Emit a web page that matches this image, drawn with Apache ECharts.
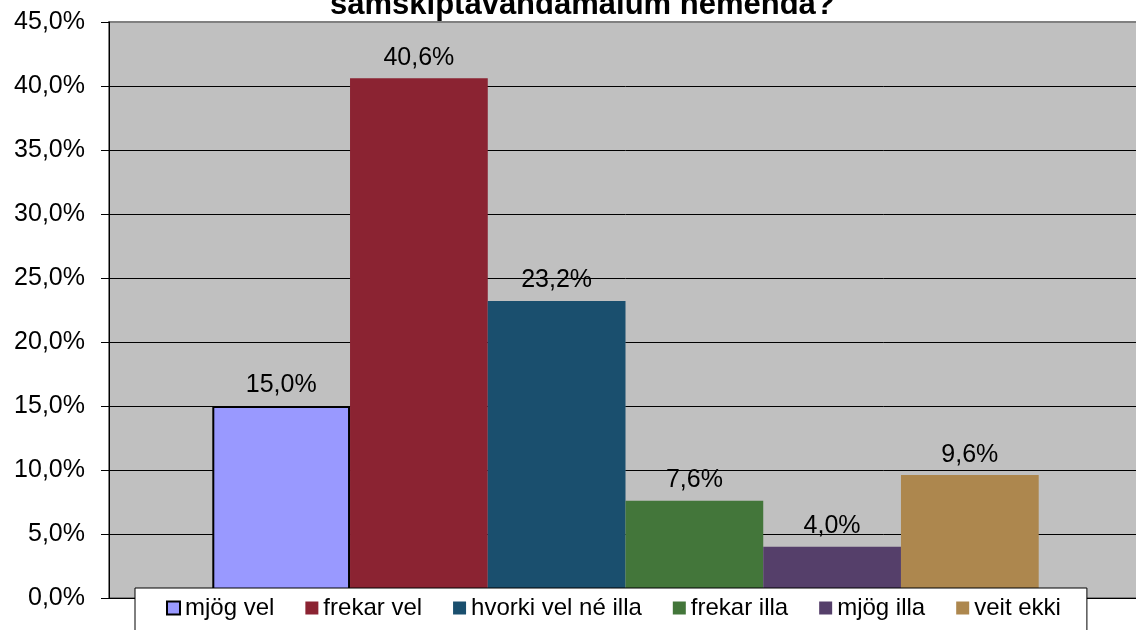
<!DOCTYPE html>
<html>
<head>
<meta charset="utf-8">
<script src="https://cdn.jsdelivr.net/npm/echarts@6/dist/echarts.min.js"></script>
<style>
  html, body { margin: 0; padding: 0; background: #fff; overflow: hidden; }
  /* the plot runs a few pixels past the right edge of the picture */
  #chart { width: 1142px; height: 630px; }
</style>
</head>
<body>
<div id="chart"></div>
<script>
// svarmöguleikar og hlutföll (%)
const answers = ['mjög vel', 'frekar vel', 'hvorki vel né illa', 'frekar illa', 'mjög illa', 'veit ekki'];
const shares = [15.0, 40.6, 23.2, 7.6, 4.0, 9.6];
const barColors = ['#9999FF', '#8B2332', '#1A4F6E', '#43763A', '#553F6A', '#AD874E'];
const titleText = 'samskiptavandamálum nemenda?';

const FONT = '"Liberation Sans", Arial, sans-serif';

function pct(v) {
  return v.toFixed(1).replace('.', ',') + '%';
}

const chart = echarts.init(document.getElementById('chart'));

const series = answers.map((name, i) => ({
  name: name,
  type: 'bar',
  data: [shares[i]],
  barGap: 0,
  barCategoryGap: '20%',
  itemStyle: i === 0
    ? { color: barColors[i], borderColor: '#000', borderWidth: 2 }
    : { color: barColors[i] },
  label: {
    show: true,
    position: 'top',
    distance: 8,
    formatter: p => pct(p.value),
    fontFamily: FONT,
    fontSize: 25,
    color: '#000'
  }
}));

chart.setOption({
  animation: false,
  backgroundColor: '#fff',
  title: {
    text: titleText,
    left: 330,
    top: -10,
    padding: 0,
    textStyle: { fontFamily: FONT, fontSize: 31, fontWeight: 'bold', color: '#000' }
  },
  grid: {
    left: 109,
    top: 22,
    right: 0,
    height: 576,
    show: true,
    backgroundColor: '#C0C0C0',
    borderColor: '#808080',
    borderWidth: 2,
    containLabel: false
  },
  legend: {
    data: answers,
    left: 135,
    top: 588,
    padding: [8, 26, 24, 31],
    itemWidth: 13,
    itemHeight: 13,
    itemGap: 31,
    icon: 'rect',
    backgroundColor: '#fff',
    borderColor: '#000',
    borderWidth: 1,
    borderRadius: 0,
    textStyle: { fontFamily: FONT, fontSize: 24, color: '#000' }
  },
  xAxis: {
    type: 'category',
    data: [''],
    axisLine: { lineStyle: { color: '#000', width: 1 } },
    axisTick: { show: false },
    axisLabel: { show: false }
  },
  yAxis: {
    type: 'value',
    min: 0,
    max: 45,
    interval: 5,
    axisLine: { show: true, lineStyle: { color: '#000', width: 1 } },
    axisTick: { show: true, length: 8, lineStyle: { color: '#000' } },
    axisLabel: {
      formatter: v => pct(v),
      fontFamily: FONT,
      fontSize: 25,
      color: '#000',
      margin: 24
    },
    splitLine: { show: true, showMaxLine: false, lineStyle: { color: '#000', width: 1 } }
  },
  series: series
});
</script>
</body>
</html>
